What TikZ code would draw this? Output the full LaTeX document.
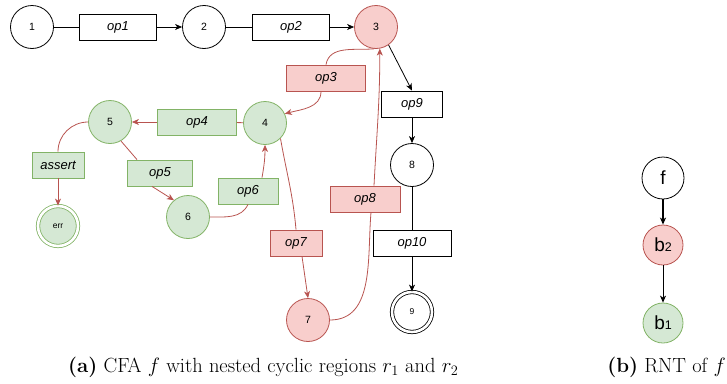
\documentclass[tikz,border=0pt]{standalone}
\usepackage{fontspec}
\newfontfamily\hv{Liberation Sans}
\usetikzlibrary{arrows.meta}
\definecolor{rfill}{HTML}{F8CECC}
\definecolor{rline}{HTML}{B85450}
\definecolor{gfill}{HTML}{D5E8D4}
\definecolor{gline}{HTML}{82B366}
\begin{document}
\begin{tikzpicture}[x=1pt,y=-1pt,
  st/.style={circle,draw,line width=0.8pt,minimum size=43pt,inner sep=0pt,font=\hv\fontsize{10.5}{12}\selectfont},
  red/.style={fill=rfill,draw=rline},
  grn/.style={fill=gfill,draw=gline},
  fin/.style={double distance=2.6pt,line width=0.8pt,minimum size=40pt,font=\hv\fontsize{8.5}{10}\selectfont},
  opbox/.style={rectangle,draw,line width=0.8pt,minimum height=26pt,inner sep=0pt,font=\hv\itshape\fontsize{13}{15}\selectfont},
  e/.style={line width=0.8pt},
  ea/.style={line width=0.8pt,-{Stealth[length=7pt,width=6pt,inset=2pt]}},
  re/.style={line width=0.8pt,draw=rline},
  rea/.style={line width=0.8pt,draw=rline,-{Stealth[length=7pt,width=6pt,inset=2pt]},fill=none},
  rn/.style={circle,draw,line width=0.8pt,minimum size=42pt,inner sep=0pt,font=\hv\fontsize{19}{22}\selectfont},
  captext/.style={anchor=base west,font=\fontsize{20.5}{24}\selectfont,inner sep=0pt}
]
\useasboundingbox (0,0) rectangle (727,383);
% states
\node[st] (n1) at (32,27) {1};
\node[st] (n2) at (204,27) {2};
\node[st,red] (n3) at (376,27) {3};
\node[st,grn] (n4) at (265,123) {4};
\node[st,grn] (n5) at (110,122) {5};
\node[st,grn] (n6) at (188,217) {6};
\node[st,red] (n7) at (308,320) {7};
\node[st] (n8) at (412,165) {8};
\node[st,fin,draw=gline,fill=gfill] (err) at (58,226) {err};
\node[st,fin] (n9) at (412,312) {9};
% boxes
\node[opbox,minimum width=77pt] (op1) at (118,27) {op1};
\node[opbox,minimum width=77pt] (op2) at (291,27) {op2};
\node[opbox,minimum width=79pt,red] (op3) at (326,78) {op3};
\node[opbox,minimum width=79pt,grn] (op4) at (197,122) {op4};
\node[opbox,minimum width=52pt,grn] (as) at (58,165) {assert};
\node[opbox,minimum width=65pt,grn] (op5) at (160,173) {op5};
\node[opbox,minimum width=60pt,grn] (op6) at (248,191) {op6};
\node[opbox,minimum width=52pt,red] (op7) at (296,243) {op7};
\node[opbox,minimum width=70pt,red] (op8) at (365,199) {op8};
\node[opbox,minimum width=61pt] (op9) at (412,104) {op9};
\node[opbox,minimum width=78pt] (op10) at (412,243) {op10};
% black edges
\draw[e] (n1) -- (op1);
\draw[ea] (op1) -- (n2);
\draw[e] (n2) -- (op2);
\draw[ea] (op2) -- (n3);
\draw[ea] (n3.-55) -- (op9.north);
\draw[ea] (op9) -- (n8);
\draw[e] (n8) -- (op10);
\draw[ea] (op10) -- (n9);
% red edges
\draw[re] (n3.265) to[out=185,in=80] (op3.north);
\draw[rea] ([xshift=-5pt]op3.south) to[out=-90,in=15] (n4.25);
\draw[re] (n4) -- (op4);
\draw[rea] (op4) -- (n5);
\draw[re] (n5.west) to[out=180,in=90] (as.north);
\draw[rea] (as) -- (err);
\draw[re] (n5.-60) -- ([xshift=-23pt]op5.north);
\draw[rea] ([xshift=-8pt]op5.south) -- (n6.130);
\draw[re] (n6.east) to[out=0,in=-115] (op6.south);
\draw[rea] ([xshift=14pt]op6.north) to[out=80,in=-90] (n4.south);
\draw[re] (n4.-45) to[out=-80,in=95] (op7.north);
\draw[rea] ([xshift=6pt]op7.south) -- (n7.north);
\draw[re] (n7.east) to[out=0,in=-95] ([xshift=6pt]op8.south);
\draw[rea] ([xshift=9pt]op8.north) to[out=87,in=-90] (n3.-80);
% RNT
\node[rn] (f) at (663,178) {f};
\node[rn,red,minimum size=40pt] (b2) at (663,245) {b{\fontsize{12.5}{14}\selectfont 2}};
\node[rn,grn,minimum size=40pt] (b1) at (663,323) {b{\fontsize{12.5}{14}\selectfont 1}};
\draw[line width=1.6pt,-{Stealth[length=7pt,width=6pt,inset=2pt]}] (f) -- (b2);
\draw[ea] (b2) -- (b1);
% captions
\node[captext] (capa) at (68,372) {\textbf{(a)} CFA $f$ with nested cyclic regions $r_1$ and $r_2$};
\node[captext,anchor=base east] (capb) at (726,372) {\textbf{(b)} RNT of $f$};
\end{tikzpicture}
\end{document}
